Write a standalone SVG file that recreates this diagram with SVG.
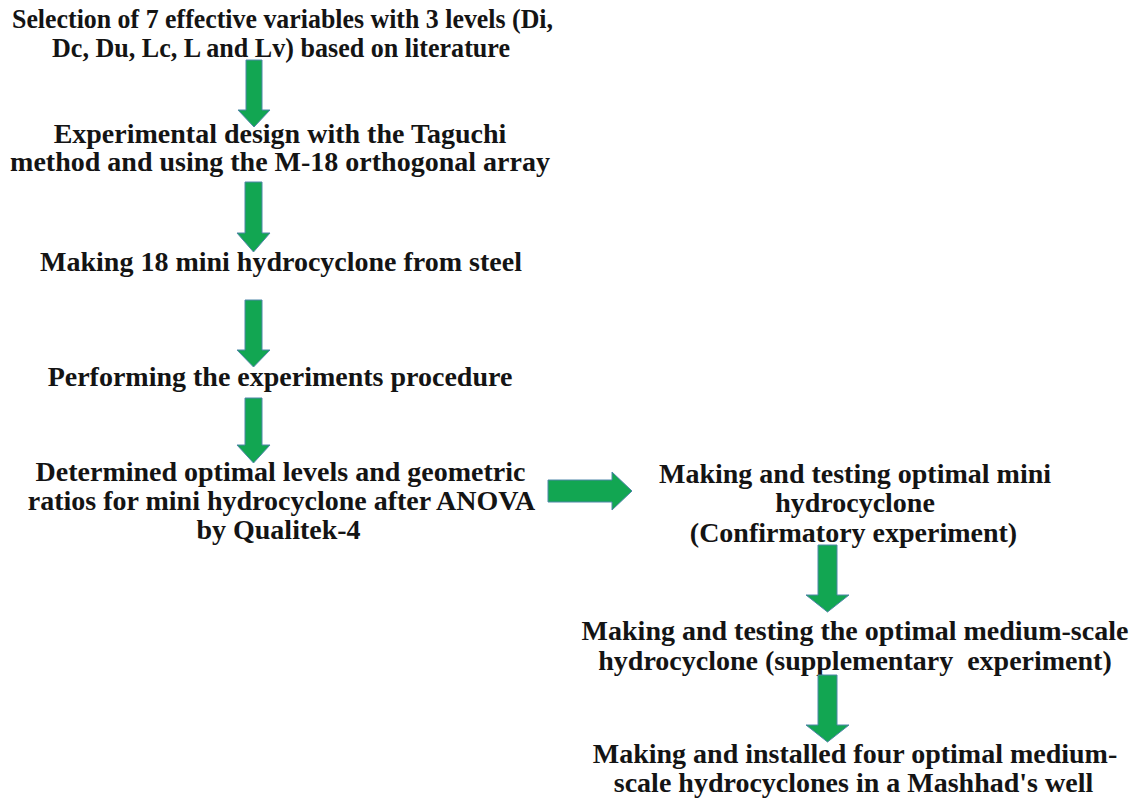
<svg xmlns="http://www.w3.org/2000/svg" width="1136" height="798" viewBox="0 0 1136 798">
<style>
.t{font-family:"Liberation Serif","Times New Roman",serif;font-weight:bold;font-size:28px;fill:#141414;text-anchor:middle}
.s{font-size:27px}
.a{fill:#12A652;stroke:#4F86A8;stroke-width:1}
</style>
<rect width="1136" height="798" fill="#ffffff"/>
<g id="n1"><text class="t s" x="282.5" y="28" textLength="541" lengthAdjust="spacingAndGlyphs">Selection of 7 effective variables with 3 levels (Di,</text><text class="t s" x="281" y="57" textLength="458" lengthAdjust="spacingAndGlyphs">Dc, Du, Lc, L and Lv) based on literature</text></g>
<g id="n2"><text class="t" x="280" y="143">Experimental design with the Taguchi</text><text class="t" x="280" y="171">method and using the M-18 orthogonal array</text></g>
<g id="n3"><text class="t" x="281" y="271">Making 18 mini hydrocyclone from steel</text></g>
<g id="n4"><text class="t" x="280" y="386">Performing the experiments procedure</text></g>
<g id="n5"><text class="t" x="280.5" y="481">Determined optimal levels and geometric</text><text class="t" x="281.5" y="510">ratios for mini hydrocyclone after ANOVA</text><text class="t" x="278.5" y="539">by Qualitek-4</text></g>
<g id="n6"><text class="t" x="855" y="483">Making and testing optimal mini</text><text class="t" x="855" y="512">hydrocyclone</text><text class="t" x="853.5" y="542">(Confirmatory experiment)</text></g>
<g id="n7"><text class="t" x="855" y="640">Making and testing the optimal medium-scale</text><text class="t" x="855" y="670" xml:space="preserve">hydrocyclone (supplementary  experiment)</text></g>
<g id="n8"><text class="t" x="855" y="763">Making and installed four optimal medium-</text><text class="t" x="853.5" y="792">scale hydrocyclones in a Mashhad's well</text></g>
<g id="connectors">
<path class="a" d="M246,60 H262 V110 H270 L254,127 L238,110 H246 Z"/>
<path class="a" d="M245,182 H262 V233 H270 L253.5,252 L237,233 H245 Z"/>
<path class="a" d="M245,300 H262 V350 H270 L253.5,367 L237,350 H245 Z"/>
<path class="a" d="M245,398 H262 V445 H270 L253.5,463 L237,445 H245 Z"/>
<path class="a" d="M548,480 H612 V472 L632,491 L612,510 V502 H548 Z"/>
<path class="a" d="M818,545 H837 V595 H849 L827.5,612 L806,595 H818 Z"/>
<path class="a" d="M818,675 H837 V725 H849 L827.5,742 L806,725 H818 Z"/>
</g>
</svg>
